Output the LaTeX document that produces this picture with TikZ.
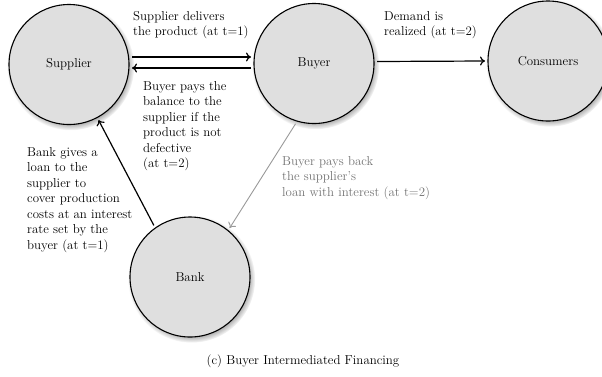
\documentclass[tikz,border=0pt]{standalone}
\usetikzlibrary{shadows,arrows.meta}
\begin{document}
\begin{tikzpicture}[x=1pt,y=-1pt,
  every node/.style={font=\fontsize{12.9}{15.5}\selectfont},
  agent/.style={circle, draw=black, line width=1.1pt, fill=gray!25, minimum size=120pt, inner sep=0pt, outer sep=3pt,
    circular drop shadow={shadow scale=1.06, shadow xshift=1.5pt, shadow yshift=-2pt, opacity=0.9}},
  lbl/.style={align=left, anchor=north west, inner sep=0pt},
  arr/.style={-{To[length=5pt,width=9pt]}, line width=1.2pt},
  garr/.style={-{To[length=5pt,width=9pt]}, line width=0.9pt, draw=black!40}]
\useasboundingbox (0,0) rectangle (602,376);
\node[agent] (sup) at (69,64.5) {Supplier};
\node[agent] (buy) at (314,63.5) {Buyer};
\node[agent] (con) at (548,61) {Consumers};
\node[agent] (bank) at (190,277) {Bank};
\draw[arr] ([yshift=7.5pt]sup.east) -- ([yshift=6.5pt]buy.west);
\draw[arr] ([yshift=-4.5pt]buy.west) -- ([yshift=-3.5pt]sup.east);
\draw[arr] ([yshift=2pt]buy.east) -- (con.west);
\draw[arr] (bank.125) -- (sup.298);
\draw[garr] (buy.253) -- (bank.51);
\node[lbl] (l1) at (133,11) {Supplier delivers\\the product (at t=1)};
\node[lbl] (l2) at (143,81) {Buyer pays the\\balance to the\\supplier if the\\product is not\\defective\\(at t=2)};
\node[lbl] (l3) at (384,11) {Demand is\\realized (at t=2)};
\node[lbl, text=black!55] (l4) at (282,156) {Buyer pays back\\the supplier's\\loan with interest (at t=2)};
\node[lbl] (l5) at (27,147) {Bank gives a\\loan to the\\supplier to\\cover production\\costs at an interest\\rate set by the\\buyer (at t=1)};
\node (cap) at (303,361) {(c) Buyer Intermediated Financing};
\end{tikzpicture}
\end{document}
